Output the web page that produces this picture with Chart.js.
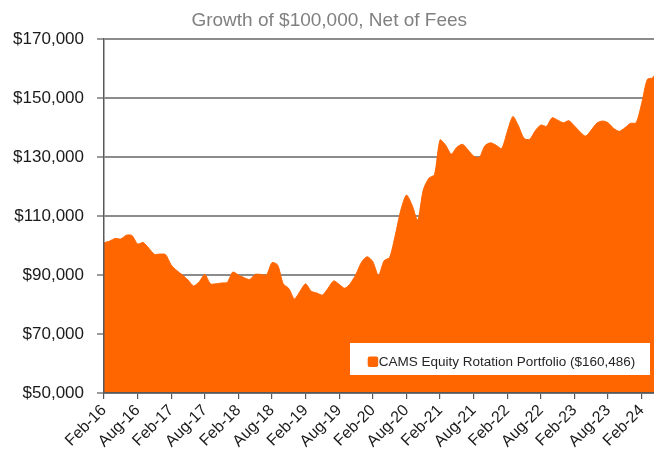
<!DOCTYPE html>
<html>
<head>
<meta charset="utf-8">
<script src="https://cdn.jsdelivr.net/npm/chart.js@4/dist/chart.umd.min.js"></script>
<style>
  html, body { margin: 0; padding: 0; background: #ffffff; overflow: hidden; width: 654px; height: 453px; }
  #wrap { position: absolute; left: 0; top: 0; width: 691px; height: 453px; }
</style>
</head>
<body>
<div id="wrap"><canvas id="c" width="691" height="453"></canvas></div>
<script>
// ---- DATA ----
const months = [
  'Feb-16','Mar-16','Apr-16','May-16','Jun-16','Jul-16','Aug-16','Sep-16','Oct-16','Nov-16','Dec-16','Jan-17',
  'Feb-17','Mar-17','Apr-17','May-17','Jun-17','Jul-17','Aug-17','Sep-17','Oct-17','Nov-17','Dec-17','Jan-18',
  'Feb-18','Mar-18','Apr-18','May-18','Jun-18','Jul-18','Aug-18','Sep-18','Oct-18','Nov-18','Dec-18','Jan-19',
  'Feb-19','Mar-19','Apr-19','May-19','Jun-19','Jul-19','Aug-19','Sep-19','Oct-19','Nov-19','Dec-19','Jan-20',
  'Feb-20','Mar-20','Apr-20','May-20','Jun-20','Jul-20','Aug-20','Sep-20','Oct-20','Nov-20','Dec-20','Jan-21',
  'Feb-21','Mar-21','Apr-21','May-21','Jun-21','Jul-21','Aug-21','Sep-21','Oct-21','Nov-21','Dec-21','Jan-22',
  'Feb-22','Mar-22','Apr-22','May-22','Jun-22','Jul-22','Aug-22','Sep-22','Oct-22','Nov-22','Dec-22','Jan-23',
  'Feb-23','Mar-23','Apr-23','May-23','Jun-23','Jul-23','Aug-23','Sep-23','Oct-23','Nov-23','Dec-23','Jan-24',
  'Feb-24','Mar-24','Apr-24','May-24'
];
const portfolioValues = [
  100900, 101500, 102400, 102200, 103500, 103400, 100500, 101000, 99100, 97000, 97100, 96900,
  93400, 91500, 90000, 88300, 86300, 87700, 90200, 87000, 87000, 87300, 87500, 91000,
  90000, 89100, 88500, 90200, 90200, 90000, 94200, 93400, 87000, 85400, 81900, 84500,
  87000, 84500, 83900, 83200, 85500, 88000, 86800, 85500, 87200, 90300, 94400, 96200,
  94500, 89800, 94800, 96000, 103500, 112000, 117100, 113700, 108600, 118800, 122800, 124000,
  135800, 134000, 131000, 133300, 134300, 132400, 130300, 129800, 133800, 134800, 134000, 132900,
  138600, 143700, 140500, 136300, 136000, 138900, 140850, 140400, 143300, 142500, 141600, 142300,
  140500, 138500, 137100, 139150, 141500, 142200, 141600, 139700, 138700, 139900, 141400, 141600,
  148200, 156300, 156900, 160486
];
const xTickLabels = ['Feb-16','Aug-16','Feb-17','Aug-17','Feb-18','Aug-18','Feb-19','Aug-19','Feb-20',
  'Aug-20','Feb-21','Aug-21','Feb-22','Aug-22','Feb-23','Aug-23','Feb-24'];
const yTickValues = [50000, 70000, 90000, 110000, 130000, 150000, 170000];
const seriesName = 'CAMS Equity Rotation Portfolio ($160,486)';
const chartTitle = 'Growth of $100,000, Net of Fees';

// ---- STYLE ----
const FONT = "'Liberation Sans', Arial, sans-serif";
const ORANGE = '#FF6600';

const fmtDollar = v => '$' + v.toLocaleString('en-US');

const legendBox = {
  id: 'legendBox',
  afterDraw(chart) {
    const { ctx, chartArea: a } = chart;
    const right = a.right - 8.5, bottom = a.bottom - 18;
    const w = 300, h = 32;
    const left = right - w, top = bottom - h;
    ctx.save();
    ctx.fillStyle = '#ffffff';
    ctx.fillRect(left, top, w, h);
    const sq = 10.5;
    const sx = left + 17.7, sy = top + 13.4;
    ctx.fillStyle = ORANGE;
    ctx.beginPath();
    if (ctx.roundRect) ctx.roundRect(sx, sy, sq, sq, 2); else ctx.rect(sx, sy, sq, sq);
    ctx.fill();
    ctx.fillStyle = '#262626';
    ctx.font = '13.5px ' + FONT;
    ctx.textBaseline = 'middle';
    ctx.textAlign = 'left';
    ctx.fillText(seriesName, sx + sq + 0.5, sy + sq / 2 + 0.3);
    ctx.restore();
  }
};

new Chart(document.getElementById('c'), {
  type: 'line',
  data: {
    labels: months,
    datasets: [{
      label: seriesName,
      data: portfolioValues,
      borderColor: ORANGE,
      backgroundColor: ORANGE,
      borderWidth: 1,
      pointRadius: 0,
      tension: 0.25,
      fill: 'start'
    }]
  },
  options: {
    responsive: false,
    animation: false,
    layout: { padding: { left: 0, right: 32.5, top: 0, bottom: 0 } },
    plugins: {
      legend: { display: false },
      tooltip: { enabled: false },
      title: {
        display: true,
        text: chartTitle,
        color: '#808080',
        font: { family: FONT, size: 19, weight: 'normal', lineHeight: 1.2 },
        padding: { top: 9, bottom: 7.2 }
      }
    },
    scales: {
      x: {
        type: 'category',
        offset: false,
        grid: { display: true, drawOnChartArea: false, drawTicks: true, tickLength: 6, color: '#595959', lineWidth: 1.2 },
        border: { display: true, color: '#595959', width: 1.5, z: 1 },
        ticks: {
          autoSkip: false,
          maxRotation: 45,
          minRotation: 45,
          padding: 2,
          color: '#1a1a1a',
          font: { family: FONT, size: 16 },
          callback: function(val) {
            const lab = this.getLabelForValue(val);
            return xTickLabels.includes(lab) ? lab : null;
          }
        },
        afterFit: s => { s.height = 60; }
      },
      y: {
        min: 50000,
        max: 170000,
        afterBuildTicks: s => { s.ticks = yTickValues.map(v => ({ value: v })); },
        grid: { color: '#8c8c8c', lineWidth: 2, drawTicks: true, tickLength: 7, tickColor: '#595959', tickWidth: 1.2 },
        border: { display: true, color: '#595959', width: 1.5, z: 1 },
        ticks: {
          padding: 13,
          color: '#1a1a1a',
          font: { family: FONT, size: 17 },
          callback: v => fmtDollar(v)
        },
        afterFit: s => { s.width = 104; }
      }
    }
  },
  plugins: [legendBox]
});
</script>
</body>
</html>
